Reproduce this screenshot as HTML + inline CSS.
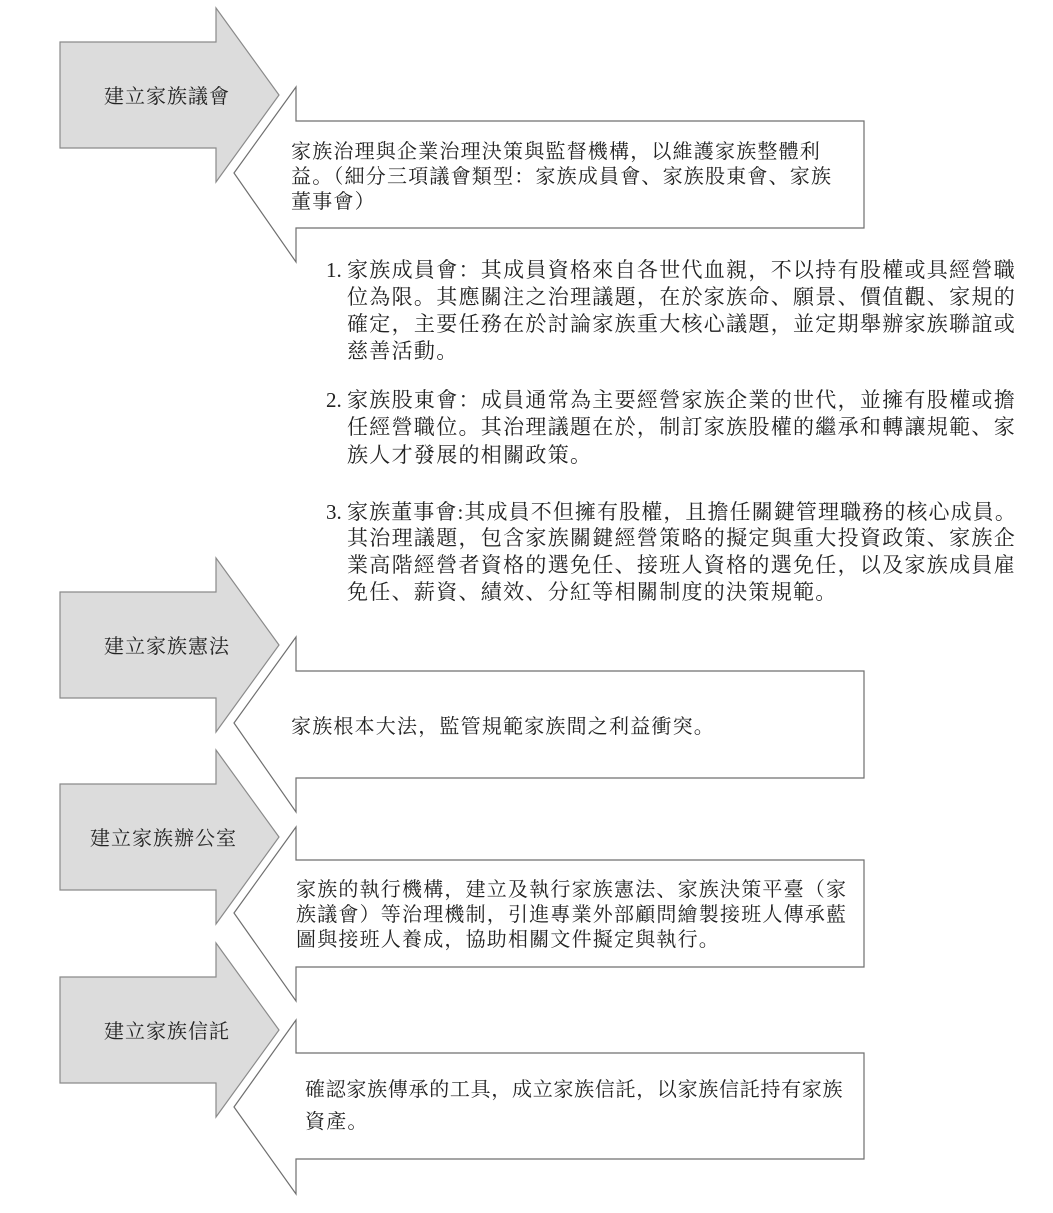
<!DOCTYPE html>
<html><head><meta charset="utf-8">
<style>
html,body{margin:0;padding:0;background:#fff;}
svg{display:block;}
text{font-family:"Liberation Serif","Noto Serif CJK SC","Noto Serif CJK TC",serif;fill:#222;dominant-baseline:central;}
.g{fill:#dcdcdc;stroke:#8a8a8a;stroke-width:1.2;}
.w{fill:#fff;stroke:#6f6f6f;stroke-width:1.2;}
.lab{font-size:20px;letter-spacing:1px;}
.t{font-size:20px;letter-spacing:1.2px;}
.l{font-size:21px;letter-spacing:1.3px;}
</style></head>
<body>
<svg width="1053" height="1213" viewBox="0 0 1053 1213" xmlns="http://www.w3.org/2000/svg">
<!-- gray arrows -->
<polygon class="g" points="60,42 216,42 216,8 279,95 216,182 216,148 60,148"/>
<polygon class="g" points="60,592 216,592 216,558 279,645 216,732 216,698 60,698"/>
<polygon class="g" points="60,784 216,784 216,750 279,837 216,924 216,890 60,890"/>
<polygon class="g" points="60,977 216,977 216,943 279,1030 216,1117 216,1083 60,1083"/>
<!-- white arrows -->
<polygon class="w" points="234,173 296,87 296,121 864,121 864,228 296,228 296,262"/>
<polygon class="w" points="234,723 296,637 296,671 864,671 864,778 296,778 296,812"/>
<polygon class="w" points="234,913 296,827 296,860 864,860 864,967 296,967 296,1001"/>
<polygon class="w" points="234,1107 296,1020 296,1053 864,1053 864,1159 296,1159 296,1194"/>
<!-- gray labels -->
<text class="lab" x="104" y="97">建立家族議會</text>
<text class="lab" x="104" y="647">建立家族憲法</text>
<text class="lab" x="90" y="839">建立家族辦公室</text>
<text class="lab" x="104" y="1032">建立家族信託</text>
<!-- white texts -->
<text class="t" x="291" y="152">家族治理與企業治理決策與監督機構，以維護家族整體利</text>
<text class="t" x="291" y="177">益。（細分三項議會類型：家族成員會、家族股東會、家族</text>
<text class="t" x="291" y="202">董事會）</text>
<text class="t" x="291" y="727">家族根本大法，監管規範家族間之利益衝突。</text>
<text class="t" x="296" y="890">家族的執行機構，建立及執行家族憲法、家族決策平臺（家</text>
<text class="t" x="296" y="915">族議會）等治理機制，引進專業外部顧問繪製接班人傳承藍</text>
<text class="t" x="296" y="940">圖與接班人養成，協助相關文件擬定與執行。</text>
<text class="t" x="305" y="1090" style="letter-spacing:0.7px">確認家族傳承的工具，成立家族信託，以家族信託持有家族</text>
<text class="t" x="305" y="1122">資產。</text>
<!-- list -->
<text class="l" x="326" y="270" style="letter-spacing:0">1.</text>
<text class="l" x="347" y="270">家族成員會：其成員資格來自各世代血親，不以持有股權或具經營職</text>
<text class="l" x="347" y="297">位為限。其應關注之治理議題，在於家族命、願景、價值觀、家規的</text>
<text class="l" x="347" y="324">確定，主要任務在於討論家族重大核心議題，並定期舉辦家族聯誼或</text>
<text class="l" x="347" y="351">慈善活動。</text>
<text class="l" x="326" y="400" style="letter-spacing:0">2.</text>
<text class="l" x="347" y="400">家族股東會：成員通常為主要經營家族企業的世代，並擁有股權或擔</text>
<text class="l" x="347" y="427">任經營職位。其治理議題在於，制訂家族股權的繼承和轉讓規範、家</text>
<text class="l" x="347" y="455">族人才發展的相關政策。</text>
<text class="l" x="326" y="512" style="letter-spacing:0">3.</text>
<text class="l" x="347" y="512" style="letter-spacing:1.1px">家族董事會:其成員不但擁有股權，且擔任關鍵管理職務的核心成員。</text>
<text class="l" x="347" y="538">其治理議題，包含家族關鍵經營策略的擬定與重大投資政策、家族企</text>
<text class="l" x="347" y="565">業高階經營者資格的選免任、接班人資格的選免任，以及家族成員雇</text>
<text class="l" x="347" y="592">免任、薪資、績效、分紅等相關制度的決策規範。</text>
</svg>
</body></html>
